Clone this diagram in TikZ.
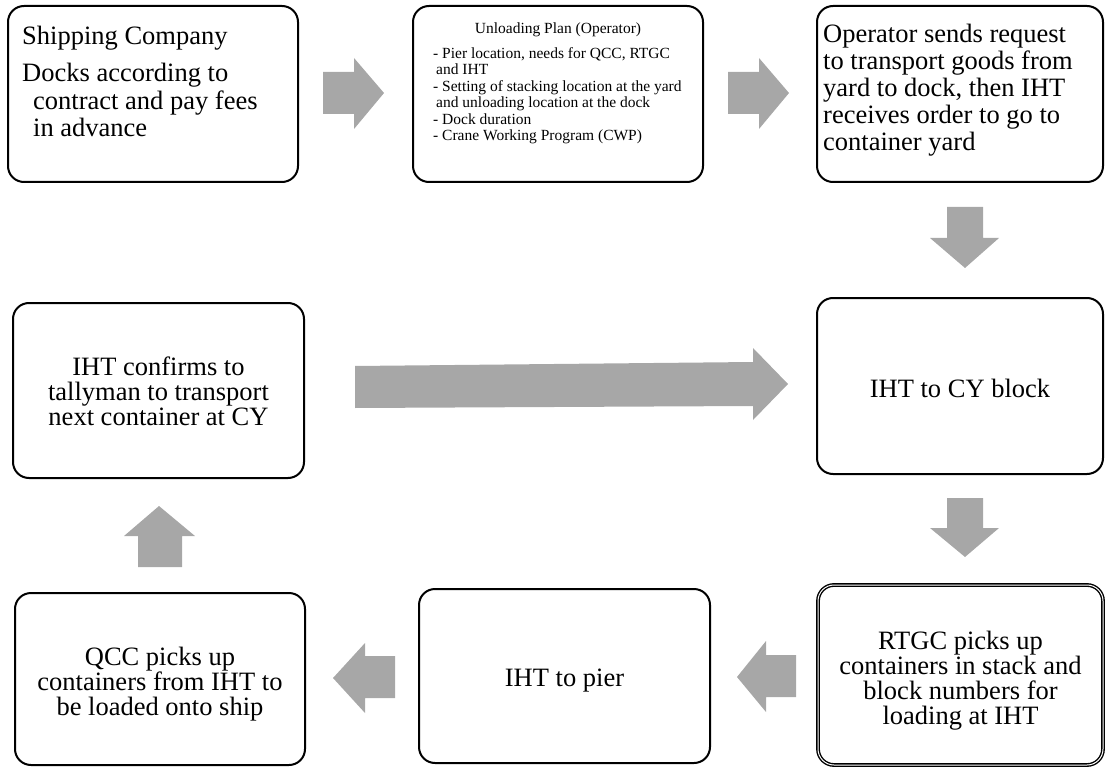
\documentclass[tikz,border=0pt]{standalone}
\usepackage{fontspec}
\setmainfont{Liberation Serif}
\definecolor{arrowgray}{RGB}{167,167,167}
\begin{document}
\begin{tikzpicture}[x=1pt,y=-1pt,
  flowbox/.style={draw=black, line width=2pt, rounded corners=16pt, fill=white, inner sep=0pt},
  bigtext/.style={inner sep=0pt, font=\fontsize{26.5}{25}\selectfont, align=center},
  lefttext/.style={inner sep=0pt, align=left},
  blockarrow/.style={fill=arrowgray, draw=none}]
\useasboundingbox (0,0) rectangle (1105,767);

% ---- process boxes ----
\node[flowbox, minimum width=290, minimum height=176] (ship) at (153,94) {};
\node[flowbox, minimum width=290, minimum height=176] (plan) at (558,94) {};
\node[flowbox, minimum width=286, minimum height=176] (oper) at (960,94) {};
\node[flowbox, minimum width=286, minimum height=176] (cy) at (960,386) {};
\node[flowbox, double, line width=1.4pt, double distance=1pt, minimum width=285, minimum height=180] (rtgc) at (960.5,675) {};
\node[flowbox, minimum width=291, minimum height=174] (pier) at (564.5,676) {};
\node[flowbox, minimum width=290, minimum height=172] (qcc) at (160,679) {};
\node[flowbox, minimum width=291, minimum height=175] (conf) at (158.5,390.5) {};

% ---- centred box texts ----
\node[bigtext] (cytext) at (960,388) {IHT to CY block};
\node[bigtext] (rtgctext) at (960.5,681) {RTGC picks up\\containers in stack and\\block numbers for\\loading at IHT};
\node[bigtext] (piertext) at (564.5,681) {IHT to pier};
\node[bigtext] (qcctext) at (160,684) {QCC picks up\\containers from IHT to\\be loaded onto ship};
\node[bigtext] (conftext) at (158.5,391.5) {IHT confirms to\\tallyman to transport\\next container at CY};

% ---- left-aligned texts of the top row (base = last line) ----
\node[lefttext, anchor=base west, font=\fontsize{26.5}{27.5}\selectfont] (shiphead) at (22,45) {Shipping Company};
\node[lefttext, anchor=base west, font=\fontsize{26.5}{27.5}\selectfont] (shipbody) at (22,137)
  {Docks according to\\\hspace*{11pt}contract and pay fees\\\hspace*{11pt}in advance};
\node[inner sep=0pt, anchor=base, font=\fontsize{15.5}{16.5}\selectfont] (planhead) at (558,33.5) {Unloading Plan (Operator)};
\node[lefttext, anchor=base west, font=\fontsize{15.5}{16.4}\selectfont] (planbody) at (433,140.5)
  {- Pier location, needs for QCC, RTGC\\\hspace*{3pt}and IHT\\- Setting of stacking location at the yard\\\hspace*{3pt}and unloading location at the dock\\- Dock duration\\- Crane Working Program (CWP)};
\node[lefttext, anchor=base west, font=\fontsize{26.5}{27}\selectfont] (operbody) at (823,151)
  {Operator sends request\\to transport goods from\\yard to dock, then IHT\\receives order to go to\\container yard};

% ---- block arrows ----
\fill[blockarrow] (323,72) -- (354,72) -- (354,58) -- (384,93) -- (354,129) -- (354,114) -- (323,114) -- cycle;
\fill[blockarrow] (728,72) -- (759,72) -- (759,58) -- (789,93) -- (759,129) -- (759,114) -- (728,114) -- cycle;
\fill[blockarrow] (947,207) -- (983,207) -- (983,238) -- (999,238) -- (965,268) -- (930,238) -- (947,238) -- cycle;
\fill[blockarrow] (947,498) -- (983,498) -- (983,528) -- (999,528) -- (965,557) -- (930,528) -- (947,528) -- cycle;
\fill[blockarrow] (796,655) -- (766,655) -- (766,641) -- (737,677) -- (766,712) -- (766,697) -- (796,697) -- cycle;
\fill[blockarrow] (395,656) -- (365,656) -- (365,643) -- (333,678) -- (365,713) -- (365,698) -- (395,698) -- cycle;
\fill[blockarrow] (138,567) -- (138,536) -- (124,536) -- (159,506) -- (195,536) -- (182,536) -- (182,567) -- cycle;
\fill[blockarrow] (355,366) -- (753,362) -- (753,348) -- (788,384) -- (753,420) -- (753,406) -- (355,408) -- cycle;
\end{tikzpicture}
\end{document}
